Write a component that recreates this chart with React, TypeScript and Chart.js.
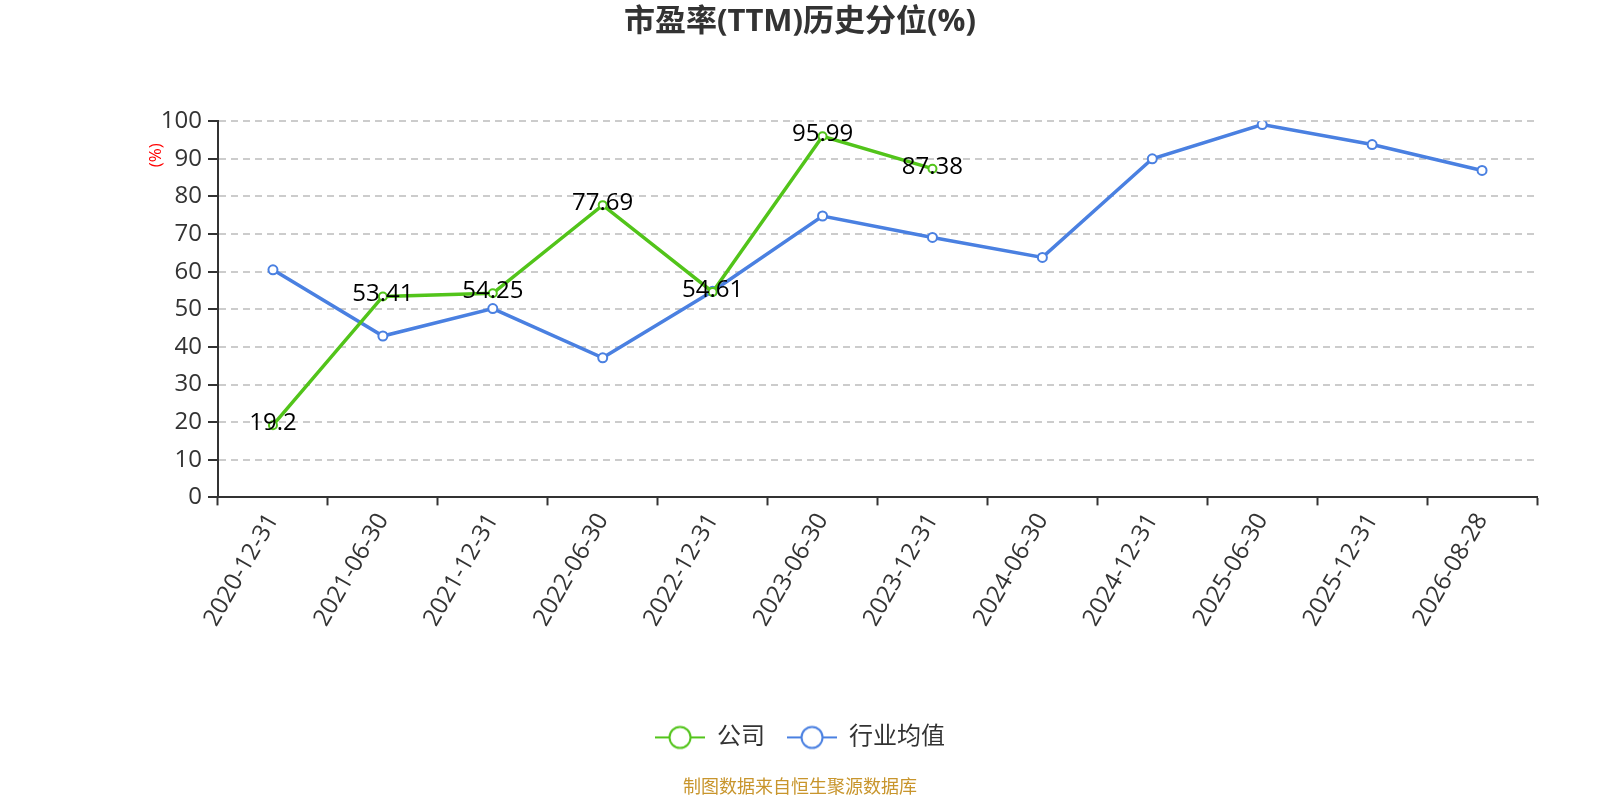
import { useEffect, useRef } from "react";
import { Chart, registerables, Plugin } from "chart.js";

Chart.register(...registerables);

const FONT = "'Open Sans', 'Noto Sans CJK SC', sans-serif";

const dates = [
  "2020-12-31",
  "2021-06-30",
  "2021-12-31",
  "2022-06-30",
  "2022-12-31",
  "2023-06-30",
  "2023-12-31",
  "2024-06-30",
  "2024-12-31",
  "2025-06-30",
  "2025-12-31",
  "2026-08-28",
];

const companyValues: (number | null)[] = [
  19.2, 53.41, 54.25, 77.69, 54.61, 95.99, 87.38, null, null, null, null, null,
];
const industryValues = [60.5, 42.9, 50.2, 37.1, 54.8, 74.8, 69.1, 63.8, 90.0, 99.1, 93.8, 86.9];

const seriesNames = ["公司", "行业均值"];
const seriesColors = ["#52c41a", "#4a80e1"];

const titleText = "市盈率(TTM)历史分位(%)";
const sourceText = "制图数据来自恒生聚源数据库";
const unitText = "(%)";

function legendIcon(color: string) {
  const c = document.createElement("canvas");
  c.width = 50;
  c.height = 26;
  const ctx = c.getContext("2d")!;
  ctx.strokeStyle = color;
  ctx.lineWidth = 2;
  ctx.beginPath();
  ctx.moveTo(0, 13);
  ctx.lineTo(50, 13);
  ctx.stroke();
  ctx.beginPath();
  ctx.arc(25, 13, 10.5, 0, Math.PI * 2);
  ctx.fillStyle = "#fff";
  ctx.fill();
  ctx.stroke();
  return c;
}

// value labels on the company line
const valueLabels: Plugin<"line"> = {
  id: "valueLabels",
  afterDatasetsDraw(chart) {
    const meta = chart.getDatasetMeta(0);
    const ctx = chart.ctx;
    ctx.save();
    ctx.font = `24px ${FONT}`;
    ctx.fillStyle = "#000";
    ctx.textAlign = "center";
    ctx.textBaseline = "middle";
    meta.data.forEach((pt, i) => {
      const v = companyValues[i];
      if (v == null) return;
      ctx.fillText(String(v), pt.x, pt.y - 2);
    });
    ctx.restore();
  },
};

// red "(%)" unit next to the y axis
const unitLabel: Plugin<"line"> = {
  id: "unitLabel",
  afterDraw(chart) {
    const { ctx, chartArea } = chart;
    ctx.save();
    ctx.translate(chartArea.left - 62, chartArea.top + 34);
    ctx.rotate(-Math.PI / 2);
    ctx.font = `17px ${FONT}`;
    ctx.fillStyle = "#ff0000";
    ctx.textAlign = "center";
    ctx.textBaseline = "middle";
    ctx.fillText(unitText, 0, 0);
    ctx.restore();
  },
};

export default function App() {
  const canvasRef = useRef<HTMLCanvasElement>(null);
  const chartRef = useRef<Chart | null>(null);

  useEffect(() => {
    if (!canvasRef.current) return;
    if (chartRef.current) chartRef.current.destroy();

    const icons = seriesColors.map(legendIcon);

    chartRef.current = new Chart(canvasRef.current, {
      type: "line",
      data: {
        labels: dates,
        datasets: [
          {
            label: seriesNames[0],
            data: companyValues,
            borderColor: seriesColors[0],
            backgroundColor: "#fff",
            borderWidth: 3.5,
            pointRadius: 4,
            pointBorderWidth: 2,
            pointBackgroundColor: "#fff",
            pointBorderColor: seriesColors[0],
            tension: 0,
          },
          {
            label: seriesNames[1],
            data: industryValues,
            borderColor: seriesColors[1],
            backgroundColor: "#fff",
            borderWidth: 3.5,
            pointRadius: 4.5,
            pointBorderWidth: 2,
            pointBackgroundColor: "#fff",
            pointBorderColor: seriesColors[1],
            tension: 0,
          },
        ],
      },
      options: {
        animation: false,
        responsive: false,
        layout: { padding: { left: 63, right: 63, top: 0, bottom: 0 } },
        scales: {
          x: {
            offset: true,
            grid: {
              display: true,
              drawOnChartArea: false,
              drawTicks: true,
              tickLength: 8,
              tickColor: "#333",
              tickWidth: 2,
              offset: true,
            },
            border: { display: true, color: "#333", width: 2 },
            ticks: {
              color: "#333",
              font: { size: 24, family: FONT },
              minRotation: 60,
              maxRotation: 60,
              padding: 3,
              autoSkip: false,
            },
            afterFit: (s) => {
              s.height = 206;
            },
          },
          y: {
            min: 0,
            max: 100,
            ticks: {
              stepSize: 10,
              color: "#333",
              font: { size: 24, family: FONT },
              padding: 6,
            },
            grid: {
              color: (c) => (c.tick && c.tick.value === 0 ? "rgba(0,0,0,0)" : "#cccccc"),
              lineWidth: 2,
              tickLength: 10,
              tickColor: "#333",
              tickWidth: 2,
            },
            border: { display: true, color: "#333", width: 2, dash: [7, 5] },
            afterFit: (s) => {
              s.width = 155;
            },
          },
        },
        plugins: {
          title: {
            display: true,
            text: titleText,
            color: "#333",
            font: { size: 31, weight: "bold", family: FONT },
            padding: { top: 4, bottom: 80 },
          },
          subtitle: {
            display: true,
            position: "bottom",
            text: sourceText,
            color: "#c8952c",
            font: { size: 18, family: FONT, weight: "normal" },
            padding: { top: 18, bottom: 1 },
          },
          legend: {
            display: true,
            position: "bottom",
            labels: {
              usePointStyle: true,
              pointStyleWidth: 50,
              padding: 22,
              color: "#333",
              font: { size: 24, family: FONT },
              generateLabels: (chart) => {
                const items = Chart.defaults.plugins.legend.labels.generateLabels(chart);
                return items.map((it, i) => ({ ...it, pointStyle: icons[i] as any }));
              },
            },
          },
          tooltip: { enabled: false },
        },
      },
      plugins: [valueLabels, unitLabel],
    });

    return () => {
      if (chartRef.current) {
        chartRef.current.destroy();
        chartRef.current = null;
      }
    };
  }, []);

  return (
    <div style={{ position: "fixed", left: 0, top: 0, width: 1600, height: 800, background: "#fff" }}>
      <canvas ref={canvasRef} width={1600} height={800} style={{ width: 1600, height: 800 }} />
    </div>
  );
}
